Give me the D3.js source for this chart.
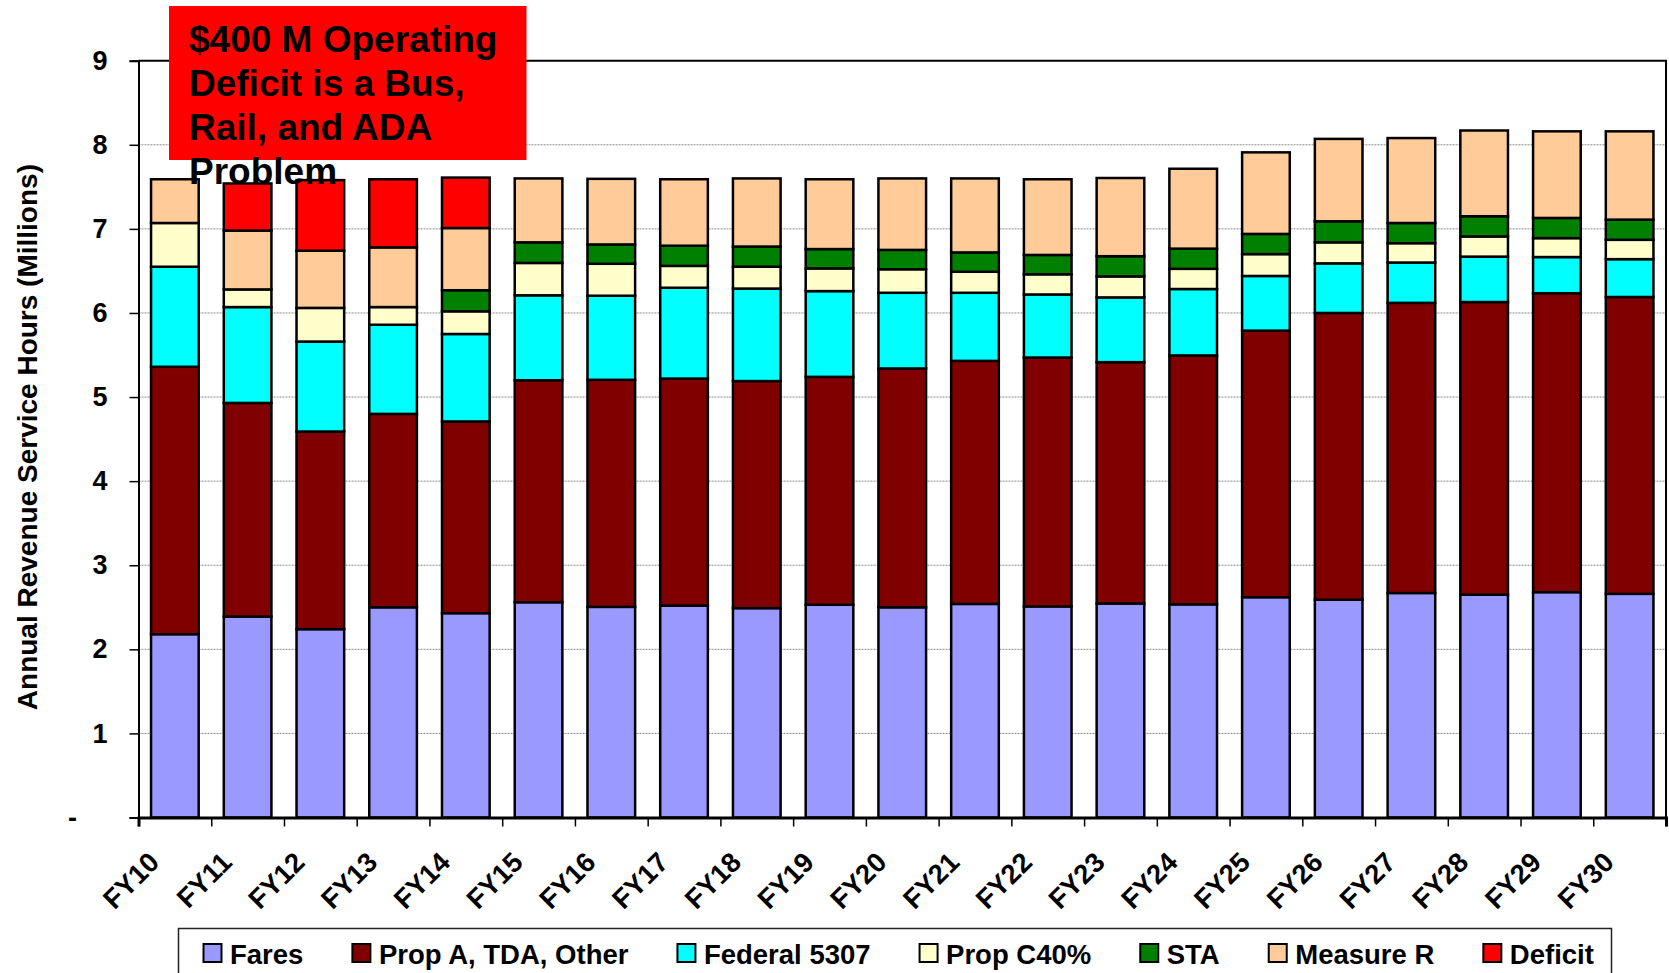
<!DOCTYPE html>
<html>
<head>
<meta charset="utf-8">
<script src="https://cdn.jsdelivr.net/npm/d3@7"></script>
<style>
	body { margin: 0; background: #fff; }
	svg { display: block; font-family: "Liberation Sans", Arial, sans-serif; font-weight: bold; }
</style>
</head>
<body>
<svg id="chart" width="1669" height="973"></svg>
<script>
const categories = ["FY10", "FY11", "FY12", "FY13", "FY14", "FY15", "FY16", "FY17", "FY18", "FY19", "FY20",
	"FY21", "FY22", "FY23", "FY24", "FY25", "FY26", "FY27", "FY28", "FY29", "FY30"];

// millions of revenue service hours, by funding source
const fares = [2.18, 2.39, 2.24, 2.50, 2.43, 2.56, 2.505, 2.52, 2.49, 2.53, 2.50,
	2.54, 2.51, 2.545, 2.535, 2.62, 2.59, 2.67, 2.65, 2.68, 2.66];
const propA = [3.18, 2.54, 2.35, 2.30, 2.28, 2.64, 2.70, 2.70, 2.70, 2.71, 2.84,
	2.89, 2.96, 2.87, 2.96, 3.17, 3.41, 3.45, 3.48, 3.555, 3.53];
const federal = [1.19, 1.14, 1.07, 1.06, 1.04, 1.01, 1.00, 1.08, 1.10, 1.02, 0.90,
	0.81, 0.75, 0.77, 0.79, 0.65, 0.59, 0.48, 0.54, 0.43, 0.45];
const propC = [0.52, 0.21, 0.40, 0.21, 0.27, 0.385, 0.38, 0.26, 0.26, 0.27, 0.28,
	0.25, 0.24, 0.25, 0.24, 0.26, 0.25, 0.23, 0.24, 0.225, 0.23];
const sta = [0, 0, 0, 0, 0.25, 0.245, 0.23, 0.24, 0.24, 0.23, 0.23,
	0.23, 0.23, 0.24, 0.24, 0.24, 0.25, 0.24, 0.24, 0.24, 0.24];
const measureR = [0.52, 0.70, 0.68, 0.71, 0.74, 0.76, 0.78, 0.79, 0.81, 0.83, 0.85,
	0.88, 0.90, 0.93, 0.95, 0.97, 0.98, 1.01, 1.02, 1.03, 1.05];
const deficit = [0, 0.56, 0.84, 0.81, 0.60, 0, 0, 0, 0, 0, 0,
	0, 0, 0, 0, 0, 0, 0, 0, 0, 0];

const seriesNames = ["Fares", "Prop A, TDA, Other", "Federal 5307", "Prop C40%", "STA", "Measure R", "Deficit"];
const seriesColors = ["#9999FF", "#800000", "#00FFFF", "#FFFFCC", "#008000", "#FFCC99", "#FF0000"];
const yTicks = [0, 1, 2, 3, 4, 5, 6, 7, 8, 9];
const titleLines = ["$400 M Operating", "Deficit is a Bus,", "Rail, and ADA", "Problem"];

const table = categories.map((c, i) => ({
	cat: c,
	"Fares": fares[i],
	"Prop A, TDA, Other": propA[i],
	"Federal 5307": federal[i],
	"Prop C40%": propC[i],
	"STA": sta[i],
	"Measure R": measureR[i],
	"Deficit": deficit[i]
}));

const svg = d3.select("#chart");
const plot = { left: 138.5, right: 1666, top: 60.7, bottom: 817.5 };

// Scales
const xScale = d3.scaleBand()
	.domain(categories)
	.range([plot.left, plot.right])
	.paddingInner(0.345)
	.paddingOuter(0.1725);
const edgeScale = d3.scaleLinear()
	.domain([0, categories.length])
	.range([plot.left, plot.right]);
const yScale = d3.scaleLinear()
	.domain([0, 9])
	.range([plot.bottom, plot.top]);
const color = d3.scaleOrdinal().domain(seriesNames).range(seriesColors);

// Gridlines
svg.append("g")
	.selectAll("line")
	.data(yTicks.filter((d) => d > 0 && d < 9))
	.enter()
	.append("line")
	.attr("x1", plot.left)
	.attr("x2", plot.right)
	.attr("y1", (d) => yScale(d))
	.attr("y2", (d) => yScale(d))
	.attr("stroke", "#8c8c8c")
	.attr("stroke-width", 1)
	.attr("stroke-dasharray", "2,1");

// Stacked bars
const stacked = d3.stack().keys(seriesNames)(table);
svg.append("g")
	.selectAll("g")
	.data(stacked)
	.enter()
	.append("g")
	.attr("fill", (s) => color(s.key))
	.selectAll("rect")
	.data((s) => s)
	.enter()
	.append("rect")
	.attr("x", (d) => xScale(d.data.cat))
	.attr("width", xScale.bandwidth())
	.attr("y", (d) => yScale(d[1]))
	.attr("height", (d) => yScale(d[0]) - yScale(d[1]))
	.attr("stroke", "#000")
	.attr("stroke-width", 2.5);

// Plot frame (top + right)
svg.append("path")
	.attr("d", `M${plot.left},${plot.top}H${plot.right}V${plot.bottom}`)
	.attr("fill", "none")
	.attr("stroke", "#000")
	.attr("stroke-width", 2);

// Axes
const yAxis = svg.append("g")
	.attr("transform", `translate(${plot.left},0)`)
	.call(d3.axisLeft(yScale).tickValues(yTicks).tickSize(9).tickPadding(22)
		.tickFormat((d) => (d === 0 ? "" : d)));
yAxis.select(".domain").attr("stroke-width", 2);
yAxis.selectAll(".tick line").attr("stroke-width", 1.5);
yAxis.selectAll("text")
	.attr("font-size", 27)
	.attr("font-family", "Liberation Sans, Arial, sans-serif")
	.attr("font-weight", "bold")
	.attr("fill", "#000");

// zero shown as a dash, accounting style
svg.append("text")
	.attr("x", 77)
	.attr("y", yScale(0))
	.attr("dy", "0.35em")
	.attr("text-anchor", "end")
	.attr("font-size", 27)
	.text("-");

const xAxis = svg.append("g")
	.attr("transform", `translate(0,${plot.bottom})`)
	.call(d3.axisBottom(edgeScale).ticks(categories.length).tickSize(9).tickFormat(""));
xAxis.select(".domain").attr("stroke-width", 3);
xAxis.selectAll(".tick line").attr("stroke-width", 1.5);

svg.append("g")
	.selectAll("text")
	.data(categories)
	.enter()
	.append("text")
	.attr("transform", (d) => `translate(${xScale(d) + xScale.bandwidth() / 2 - 14},864) rotate(-45)`)
	.attr("text-anchor", "end")
	.attr("font-size", 27.5)
	.text((d) => d);

// Y axis title
svg.append("text")
	.attr("transform", `translate(37,${(plot.top + plot.bottom) / 2 - 2}) rotate(-90)`)
	.attr("text-anchor", "middle")
	.attr("font-size", 28)
	.text("Annual Revenue Service Hours (Millions)");

// Legend
const legend = svg.append("g");
legend.append("rect")
	.attr("x", 178.5)
	.attr("y", 928.5)
	.attr("width", 1433)
	.attr("height", 80)
	.attr("fill", "#fff")
	.attr("stroke", "#222")
	.attr("stroke-width", 1.5);

let lx = 203.5;
seriesNames.forEach((name) => {
	legend.append("rect")
		.attr("x", lx)
		.attr("y", 944)
		.attr("width", 18)
		.attr("height", 18)
		.attr("fill", color(name))
		.attr("stroke", "#000")
		.attr("stroke-width", 2);
	const t = legend.append("text")
		.attr("x", lx + 26.5)
		.attr("y", 963.5)
		.attr("font-size", 27.5)
		.text(name);
	lx += 26.5 + t.node().getComputedTextLength() + 49;
});

// Callout box
svg.append("rect")
	.attr("x", 169)
	.attr("y", 6)
	.attr("width", 357.5)
	.attr("height", 154)
	.attr("fill", "#FF0000");

svg.append("g")
	.selectAll("text")
	.data(titleLines)
	.enter()
	.append("text")
	.attr("x", 189)
	.attr("y", (d, i) => 52 + i * 44)
	.attr("font-size", 37)
	.attr("fill", "#000")
	.text((d) => d);
</script>
</body>
</html>
